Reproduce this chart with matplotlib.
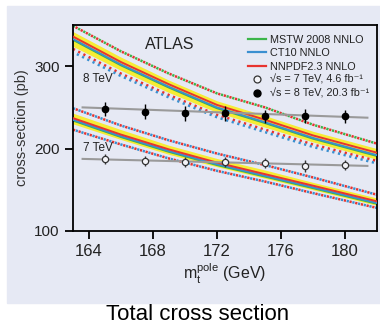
# ATLAS top-pair cross section vs pole mass

import matplotlib
matplotlib.use('Agg')
import matplotlib.pyplot as plt
from matplotlib.patches import Rectangle

plt.rcParams['lines.scale_dashes'] = False
plt.rcParams['mathtext.fontset'] = 'custom'
plt.rcParams['mathtext.rm'] = 'Liberation Sans'
plt.rcParams['mathtext.it'] = 'Liberation Sans'
plain = ['Liberation Sans', 'DejaVu Sans']

# theory predictions (pb) read at a few masses
mt_theory = [163, 166, 169, 172, 175, 178, 182]
nnpdf_8 = [336, 305, 278, 253, 235, 216, 195]
ct10_8 = [333, 302, 275, 250, 232, 213, 192]
mstw_8 = [332, 301, 274, 249, 231, 212, 191]
band_hi_8 = [342, 311, 283, 258, 240, 221, 200]
band_lo_8 = [324, 295, 268, 244, 226, 208, 187]
dot_hi_8 = [349, 318, 291, 267, 250, 229, 206]
dot_lo_8 = [321, 291, 265, 241, 223, 205, 185]
dot_lo2_8 = [317, 288, 262, 238, 220, 202, 182]

nnpdf_7 = [237, 217, 199, 183, 169, 155, 136]
ct10_7 = [235, 215, 197, 181, 167, 153, 134]
mstw_7 = [234, 214, 196, 180, 166, 152, 133]
band_hi_7 = [243, 223, 204, 188, 174, 159, 140]
band_lo_7 = [230, 211, 193, 178, 164, 150, 131]
dot_hi_7 = [249, 228, 210, 194, 180, 165, 144]
dot_lo_7 = [223, 205, 188, 173, 160, 146, 128]

# measurements
mt_data = [165, 167.5, 170, 172.5, 175, 177.5, 180]
xsec_8 = [248, 245, 243, 243, 239, 239.5, 239]
err_8 = [9, 9, 9, 9, 8, 8, 8]
xsec_7 = [187, 185, 183.5, 184, 182.5, 179, 180]
err_7 = [6, 6, 6, 6, 6, 7, 6]

fit_x = [163.6, 181.4]
fit_8 = [250, 237.5]
fit_7 = [187.5, 179]

bg = '#e6e9f4'
green, blue, red = '#3cb54a', '#3a8fd0', '#e8332f'

fig = plt.figure(figsize=(3.8, 3.26), dpi=100)
fig.patches.append(Rectangle((7 / 380, 1 - 303 / 326), 1, (303 - 6) / 326,
                             transform=fig.transFigure, color=bg, zorder=-10))
ax = fig.add_axes([73 / 380, 1 - 231 / 326, (377 - 73) / 380, (231 - 25) / 326])
ax.set_facecolor(bg)

dot = (1.6, 2.6)
for hi, lo, nn, ct, ms in [(band_hi_8, band_lo_8, nnpdf_8, ct10_8, mstw_8),
                           (band_hi_7, band_lo_7, nnpdf_7, ct10_7, mstw_7)]:
    ax.fill_between(mt_theory, lo, hi, color='#f6ec35', lw=0, zorder=1)
    ax.plot(mt_theory, ms, color=green, lw=1.4, zorder=2)
    ax.plot(mt_theory, ct, color=blue, lw=1.4, zorder=3)
    ax.plot(mt_theory, nn, color=red, lw=1.4, zorder=4)

# dotted uncertainty edges
ax.plot(mt_theory, dot_hi_8, color=green, lw=1.8, ls=(0, dot), zorder=2)
ax.plot(mt_theory, dot_hi_8, color=red, lw=1.8, ls=(2.1, dot), zorder=2)
ax.plot(mt_theory, dot_lo_8, color=red, lw=1.8, ls=(0, dot), zorder=2)
ax.plot(mt_theory, dot_lo2_8, color=blue, lw=1.8, ls=(1.1, dot), zorder=2)
ax.plot(mt_theory, dot_hi_7, color=blue, lw=1.8, ls=(0, dot), zorder=2)
ax.plot(mt_theory, dot_hi_7, color=red, lw=1.8, ls=(2.1, dot), zorder=2)
ax.plot(mt_theory, dot_lo_7, color=red, lw=1.8, ls=(0, dot), zorder=2)
ax.plot(mt_theory, dot_lo_7, color=blue, lw=1.8, ls=(2.1, dot), zorder=2)

ax.plot(fit_x, fit_8, color='#9a9a9a', lw=1.5, zorder=5)
ax.plot(fit_x, fit_7, color='#9a9a9a', lw=1.5, zorder=5)
ax.errorbar(mt_data, xsec_7, yerr=err_7, fmt='o', ms=4.5, mfc='#f4f4f8',
            mec='#333333', mew=0.9, ecolor='#333333', elinewidth=1, zorder=6)
ax.errorbar(mt_data, xsec_8, yerr=err_8, fmt='o', ms=4.5, color='black',
            elinewidth=1, zorder=6)

ax.set_xlim(163, 182)
ax.set_ylim(100, 350)
ax.set_xticks([164, 168, 172, 176, 180])
ax.set_yticks([100, 200, 300])
for s in ax.spines.values():
    s.set_linewidth(1.3)
ax.tick_params(direction='out', length=6, width=1.3, colors='black')
for t in ax.get_xticklabels():
    t.set_fontfamily(plain)
    t.set_fontsize(12)
    t.set_color('#222222')
for t in ax.get_yticklabels():
    t.set_fontfamily(plain)
    t.set_fontsize(11)
    t.set_color('#222222')

ax.set_ylabel('cross-section (pb)', family=plain, fontsize=10.5, color='#333333', labelpad=4)
ax.set_xlabel(r'm$_\mathregular{t}^\mathregular{pole}$ (GeV)', family=plain,
              fontsize=11.5, color='#222222', labelpad=2)

ax.text(167.5, 326, 'ATLAS', family=plain, fontsize=11.5, va='center', color='#222222')
ax.text(163.6, 284, '8 TeV', family=plain, fontsize=8.5, va='center', color='#222222')
ax.text(163.6, 201, '7 TeV', family=plain, fontsize=8.5, va='center', color='#222222')

# legend
h1, = ax.plot([], [], color=green, lw=1.6)
h2, = ax.plot([], [], color=blue, lw=1.6)
h3, = ax.plot([], [], color=red, lw=1.6)
h4, = ax.plot([], [], 'o', ms=5, mfc='#f4f4f8', mec='#333333', mew=0.9)
h5, = ax.plot([], [], 'o', ms=5, color='black')
leg = ax.legend([h1, h2, h3, h4, h5],
                ['MSTW 2008 NNLO', 'CT10 NNLO', 'NNPDF2.3 NNLO',
                 '√s = 7 TeV, 4.6 fb⁻¹',
                 '√s = 8 TeV, 20.3 fb⁻¹'],
                loc='upper left', bbox_to_anchor=(248 / 380, 1 - 35 / 326),
                bbox_transform=fig.transFigure, frameon=False,
                prop={'family': plain, 'size': 7.8}, handlelength=1.7,
                handletextpad=0.3, labelspacing=0.3, borderpad=0, borderaxespad=0)
for t in leg.get_texts():
    t.set_color('#222222')

fig.text(198 / 380, 1 - 315 / 326, 'Total cross section', family=plain,
         fontsize=16, ha='center', va='center', color='black')

fig.savefig('out.png', dpi=100)
